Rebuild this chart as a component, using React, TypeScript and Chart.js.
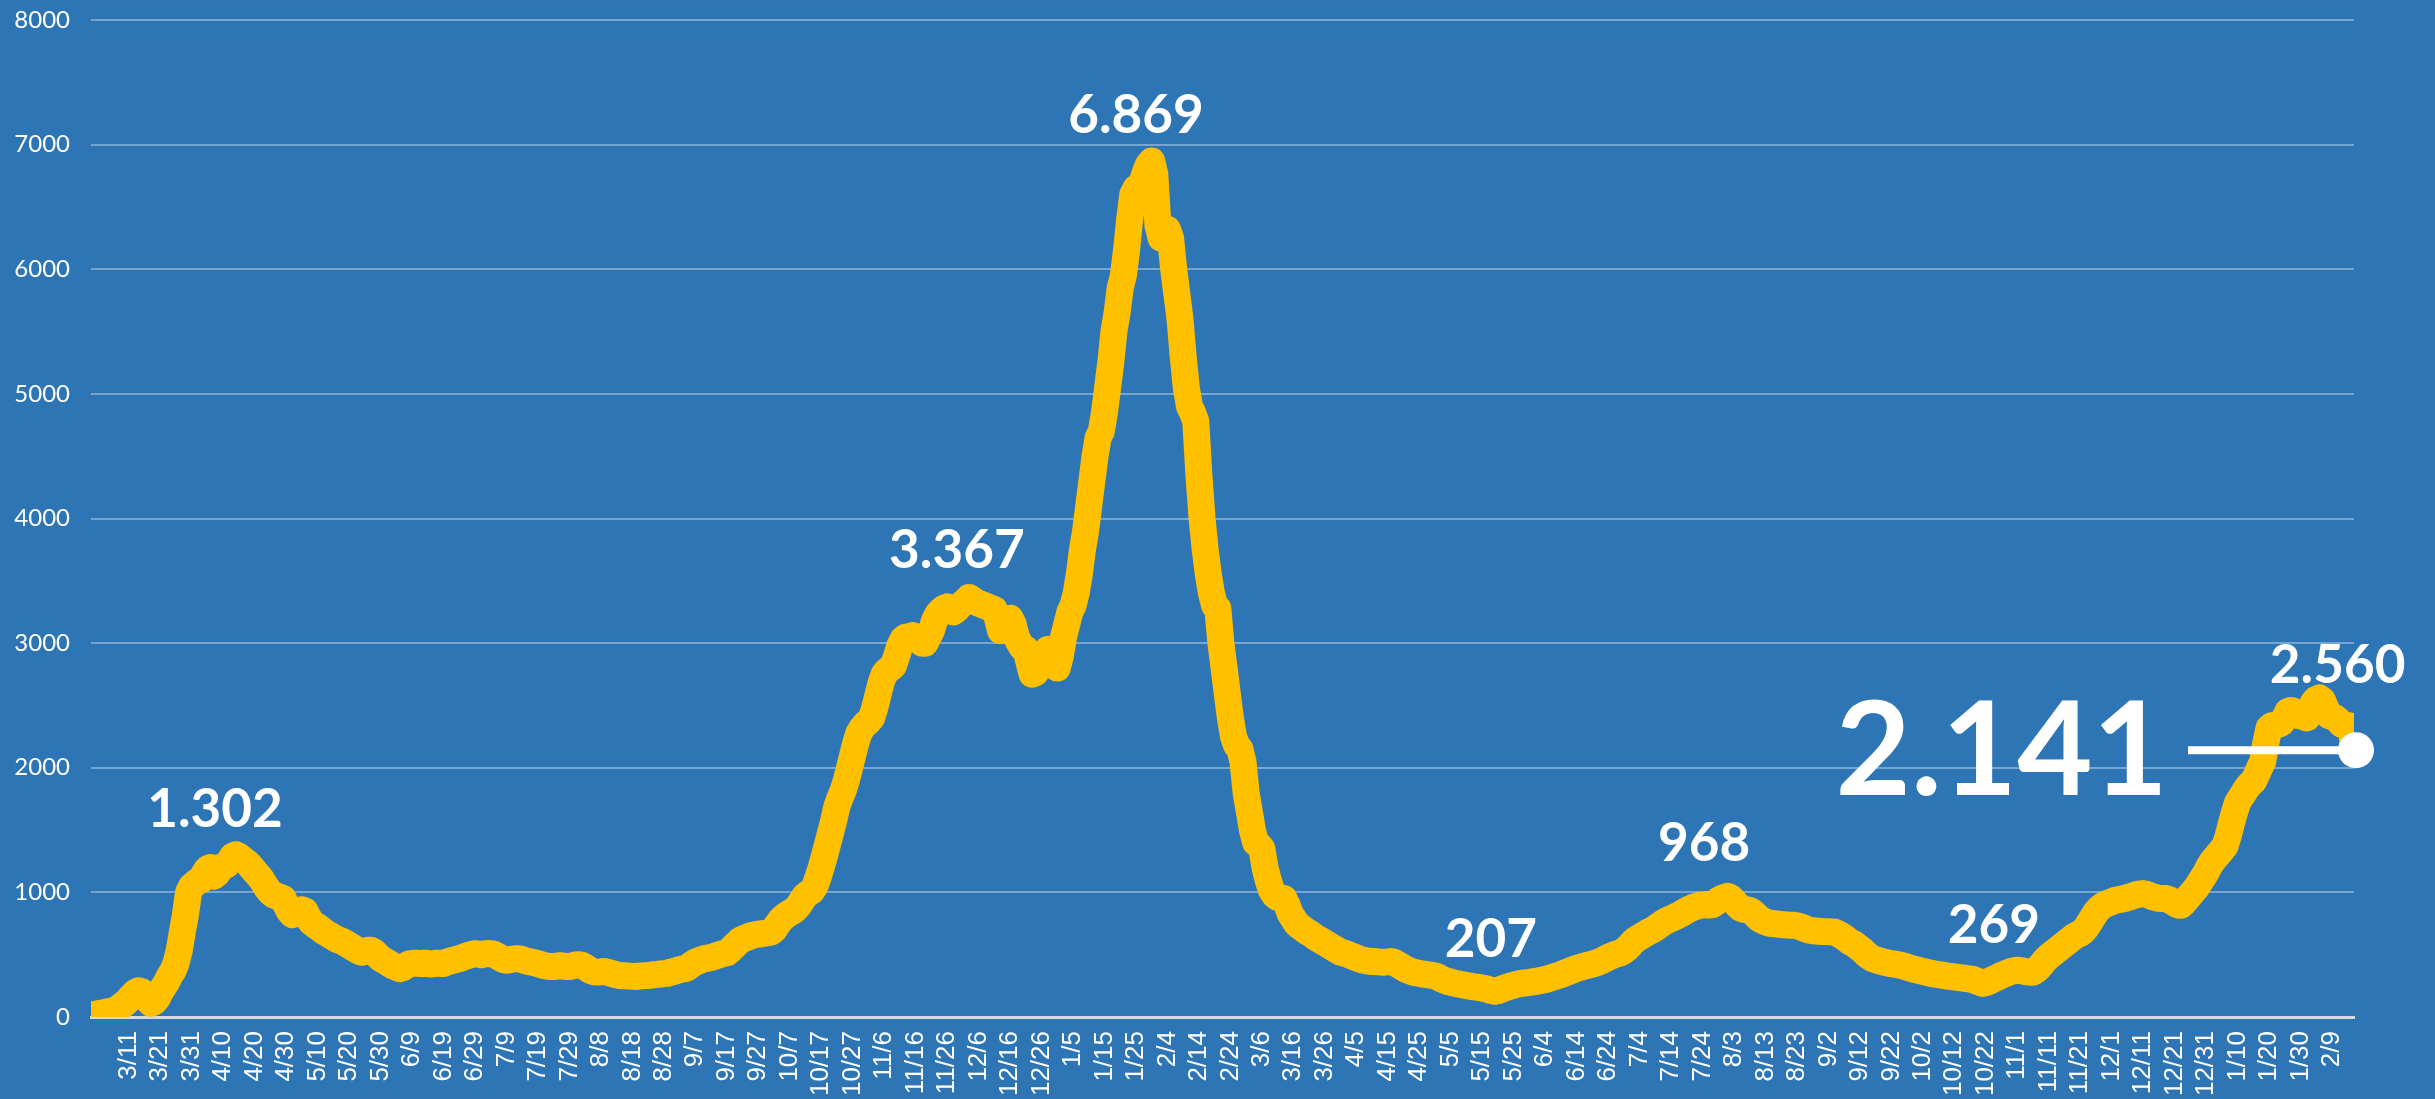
import React, { useEffect, useRef } from 'react';
import { Chart, registerables } from 'chart.js';

Chart.register(...registerables);

const W = 2435;
const H = 1099;

// First day of the series (28 Feb 2020), one value per day until 16 Feb 2022
const FIRST_DAY = { year: 2020, month: 2, day: 28 };

// Tick labels shown on the category axis (every 10th day)
const tickLabels = [
  '3/11', '3/21', '3/31', '4/10', '4/20', '4/30', '5/10', '5/20', '5/30', '6/9',
  '6/19', '6/29', '7/9', '7/19', '7/29', '8/8', '8/18', '8/28', '9/7', '9/17',
  '9/27', '10/7', '10/17', '10/27', '11/6', '11/16', '11/26', '12/6', '12/16', '12/26',
  '1/5', '1/15', '1/25', '2/4', '2/14', '2/24', '3/6', '3/16', '3/26', '4/5',
  '4/15', '4/25', '5/5', '5/15', '5/25', '6/4', '6/14', '6/24', '7/4', '7/14',
  '7/24', '8/3', '8/13', '8/23', '9/2', '9/12', '9/22', '10/2', '10/12', '10/22',
  '11/1', '11/11', '11/21', '12/1', '12/11', '12/21', '12/31', '1/10', '1/20', '1/30',
  '2/9',
];

// Daily values
const hospitalized = [
  15, 20, 25, 30, 35, 40, 45, 50, 60, 75, 95, 115,
  140, 170, 195, 210, 205, 180, 140, 110, 120, 150,
  200, 240, 280, 330, 370, 430, 530, 680, 820, 1000,
  1050, 1070, 1090, 1100, 1150, 1190, 1200, 1130, 1150, 1190,
  1210, 1220, 1250, 1290, 1302, 1290, 1270, 1250, 1230, 1200,
  1170, 1140, 1110, 1070, 1030, 1000, 980, 970, 960, 950,
  900, 850, 820, 830, 850, 860, 850, 800, 760, 740,
  725, 705, 685, 670, 655, 640, 625, 615, 605, 590,
  575, 560, 545, 530, 520, 525, 535, 535, 520, 495,
  470, 455, 441, 425, 410, 400, 388, 395, 410, 425,
  430, 432, 430, 428, 432, 430, 425, 428, 432, 430,
  430, 440, 448, 455, 462, 468, 478, 488, 495, 502,
  508, 505, 500, 505, 510, 508, 505, 490, 475, 462,
  455, 460, 465, 468, 468, 460, 452, 445, 441, 435,
  428, 420, 412, 408, 405, 405, 408, 412, 410, 405,
  405, 410, 418, 420, 415, 400, 385, 370, 362, 360,
  362, 365, 360, 352, 345, 338, 333, 330, 330, 328,
  326, 325, 328, 330, 332, 333, 336, 340, 342, 345,
  348, 350, 358, 365, 372, 380, 385, 390, 405, 425,
  440, 450, 460, 468, 472, 478, 485, 495, 503, 510,
  515, 535, 560, 585, 610, 625, 635, 645, 655, 660,
  665, 668, 672, 676, 680, 700, 740, 775, 800, 820,
  835, 850, 870, 900, 940, 975, 995, 1010, 1050, 1120,
  1200, 1290, 1385, 1480, 1580, 1690, 1760, 1820, 1900, 2000,
  2100, 2200, 2280, 2320, 2350, 2370, 2400, 2480, 2580, 2680,
  2750, 2780, 2800, 2820, 2900, 2980, 3030, 3050, 3050, 3060,
  3050, 3030, 3000, 3000, 3050, 3100, 3180, 3230, 3260, 3280,
  3290, 3270, 3250, 3270, 3300, 3320, 3340, 3367, 3350, 3330,
  3320, 3310, 3300, 3290, 3280, 3270, 3200, 3100, 3130, 3180,
  3200, 3150, 3050, 3000, 2960, 2950, 2850, 2750, 2760, 2800,
  2850, 2920, 2950, 2900, 2820, 2800, 2900, 3050, 3150, 3250,
  3300, 3400, 3550, 3750, 3900, 4100, 4300, 4500, 4650, 4700,
  4850, 5050, 5250, 5500, 5650, 5850, 5950, 6150, 6400, 6600,
  6650, 6660, 6700, 6780, 6840, 6869, 6760, 6350, 6250, 6300,
  6320, 6250, 6000, 5800, 5600, 5300, 5050, 4900, 4850, 4780,
  4350, 4000, 3750, 3550, 3400, 3300, 3280, 3000, 2800, 2600,
  2400, 2250, 2180, 2150, 2050, 1800, 1650, 1500, 1400, 1380,
  1350, 1200, 1100, 1020, 980, 960, 955, 950, 900, 830,
  790, 750, 728, 710, 690, 675, 660, 640, 625, 610,
  595, 580, 565, 550, 535, 520, 514, 505, 495, 485,
  475, 465, 458, 451, 448, 445, 445, 442, 440, 440,
  442, 445, 440, 425, 410, 395, 380, 370, 361, 355,
  350, 345, 342, 338, 335, 330, 320, 305, 295, 285,
  280, 272, 267, 262, 258, 252, 248, 243, 240, 237,
  232, 228, 220, 212, 207, 212, 222, 232, 240, 248,
  255, 262, 268, 272, 275, 278, 282, 286, 290, 295,
  300, 308, 316, 324, 332, 340, 350, 360, 370, 380,
  390, 398, 405, 412, 418, 424, 432, 440, 452, 465,
  478, 490, 500, 508, 514, 530, 550, 575, 605, 625,
  640, 655, 670, 685, 697, 712, 730, 748, 765, 778,
  789, 800, 812, 825, 840, 855, 868, 880, 888, 896,
  900, 902, 898, 900, 915, 935, 950, 960, 968, 955,
  930, 900, 875, 865, 860, 855, 840, 815, 790, 775,
  763, 755, 750, 748, 745, 742, 740, 738, 737, 736,
  732, 725, 715, 705, 696, 692, 690, 688, 686, 685,
  684, 683, 680, 670, 655, 640, 620, 600, 589, 570,
  550, 530, 505, 485, 468, 460, 452, 445, 438, 432,
  428, 424, 420, 415, 408, 400, 392, 385, 378, 372,
  366, 360, 354, 348, 344, 340, 336, 332, 328, 325,
  322, 318, 315, 312, 308, 305, 300, 290, 280, 269,
  275, 285, 298, 310, 322, 335, 345, 355, 365, 372,
  375, 372, 368, 362, 360, 360, 375, 400, 430, 460,
  485, 505, 525, 545, 565, 585, 605, 625, 645, 660,
  669, 690, 720, 760, 800, 840, 870, 890, 905, 915,
  925, 935, 940, 945, 950, 958, 965, 975, 982, 988,
  990, 985, 975, 965, 958, 952, 950, 950, 945, 930,
  915, 900, 896, 920, 950, 980, 1010, 1040, 1080, 1120,
  1160, 1210, 1250, 1280, 1310, 1340, 1370, 1450, 1550, 1640,
  1720, 1760, 1800, 1840, 1870, 1890, 1940, 2000, 2050, 2200,
  2320, 2340, 2340, 2350, 2360, 2400, 2450, 2460, 2450, 2420,
  2430, 2410, 2400, 2460, 2520, 2550, 2560, 2540, 2480, 2420,
  2410, 2400, 2380, 2350, 2340, 2340, 2330, 2141,
];

// Value callouts: text, anchor day index and anchor level (data units)
const calloutTexts = ['1.302', '3.367', '6.869', '207', '968', '269', '2.560'];
const calloutDays = [39.4, 275.1, 332.0, 444.8, 512.5, 604.6, 713.8];
const calloutLevels = [1677, 3755, 7246, 630, 1400, 750, 2833];

const yTicks = [0, 1000, 2000, 3000, 4000, 5000, 6000, 7000, 8000];

// Build daily category labels "M/D"
const categories: string[] = hospitalized.map((_, i) => {
  const d = new Date(FIRST_DAY.year, FIRST_DAY.month - 1, FIRST_DAY.day + i);
  return `${d.getMonth() + 1}/${d.getDate()}`;
});

// Map each tick label to its category index, in order
const tickIndex = new Map<number, string>();
{
  let p = 0;
  for (let i = 0; i < categories.length && p < tickLabels.length; i++) {
    if (categories[i] === tickLabels[p]) {
      tickIndex.set(i, tickLabels[p]);
      p++;
    }
  }
}

const formatPt = (n: number) => n.toLocaleString('de-DE');

const bgPlugin = {
  id: 'bgFill',
  beforeDraw(chart: any) {
    const { ctx, width, height } = chart;
    ctx.save();
    ctx.fillStyle = '#2E75B6';
    ctx.fillRect(0, 0, width, height);
    ctx.restore();
  },
};

const calloutPlugin = {
  id: 'callouts',
  afterDatasetsDraw(chart: any) {
    const { ctx } = chart;
    const xs = chart.scales.x;
    const ys = chart.scales.y;
    ctx.save();
    ctx.fillStyle = '#FFFFFF';
    ctx.strokeStyle = '#FFFFFF';
    ctx.textAlign = 'center';
    ctx.textBaseline = 'alphabetic';
    const fs = 53;
    ctx.font = `bold ${fs}px Lato`;
    calloutTexts.forEach((t, i) => {
      const px = xs.getPixelForValue(calloutDays[i]);
      const py = ys.getPixelForValue(calloutLevels[i]);
      ctx.fillText(t, px, py + fs * 0.358);
    });

    const last = hospitalized.length - 1;
    const lx = xs.getPixelForValue(last);
    const ly = ys.getPixelForValue(hospitalized[last]);
    ctx.lineWidth = 8;
    ctx.beginPath();
    ctx.moveTo(lx - 166, ly);
    ctx.lineTo(lx, ly);
    ctx.stroke();
    ctx.beginPath();
    ctx.arc(lx + 2, ly, 18, 0, Math.PI * 2);
    ctx.fill();

    const big = 130;
    ctx.font = `bold ${big}px Lato`;
    ctx.textAlign = 'right';
    ctx.fillText(formatPt(hospitalized[last]), lx - 186, ly + 45);
    ctx.restore();
  },
};

export default function App() {
  const ref = useRef<HTMLCanvasElement>(null);

  useEffect(() => {
    let chart: Chart | null = null;
    let cancelled = false;
    const ready = Promise.all([
      document.fonts.load('bold 53px Lato'),
      document.fonts.load('24px Lato'),
      document.fonts.load('26px "Liberation Sans"'),
    ]).catch(() => null);

    ready.then(() => {
      if (cancelled || !ref.current) return;
      chart = new Chart(ref.current, {
        type: 'line',
        data: {
          labels: categories,
          datasets: [
            {
              data: hospitalized,
              borderColor: '#FFC000',
              backgroundColor: '#FFC000',
              borderWidth: 27,
              pointRadius: 0,
              pointHoverRadius: 0,
              borderJoinStyle: 'round',
              borderCapStyle: 'round',
              tension: 0,
              fill: false,
              clip: 0,
            } as any,
          ],
        },
        options: {
          responsive: false,
          animation: false,
          devicePixelRatio: 1,
          events: [],
          layout: { padding: { left: 0, right: 81, top: 20, bottom: 0 } },
          plugins: {
            legend: { display: false },
            tooltip: { enabled: false },
          },
          scales: {
            x: {
              type: 'category',
              offset: false,
              grid: { display: false, drawTicks: false },
              border: { display: true, color: '#D9D9D9', width: 3 },
              ticks: {
                autoSkip: false,
                minRotation: 90,
                maxRotation: 90,
                padding: 14,
                color: '#FFFFFF',
                font: { family: '"Liberation Sans", Arial, sans-serif', size: 26 },
                callback: (_v: any, i: number) => tickIndex.get(i) ?? '',
              },
              afterFit: (s: any) => {
                s.height = 82;
                s.paddingLeft = 0;
                s.paddingRight = 0;
              },
            },
            y: {
              min: yTicks[0],
              max: yTicks[yTicks.length - 1],
              border: { display: false },
              grid: {
                drawTicks: false,
                lineWidth: 2,
                color: (c: any) =>
                  c.tick && c.tick.value === 0 ? 'rgba(0,0,0,0)' : 'rgba(255,255,255,0.35)',
              },
              ticks: {
                stepSize: yTicks[1] - yTicks[0],
                padding: 21,
                color: '#FFFFFF',
                font: { family: 'Lato', size: 24 },
                callback: (v: any) => String(v),
              },
              afterFit: (s: any) => {
                s.width = 91;
                s.paddingTop = 0;
                s.paddingBottom = 0;
              },
            },
          },
        },
        plugins: [bgPlugin, calloutPlugin],
      });
    });

    return () => {
      cancelled = true;
      if (chart) chart.destroy();
    };
  }, []);

  return (
    <div style={{ position: 'fixed', left: 0, top: 0, width: W, height: H, background: '#2E75B6' }}>
      <canvas ref={ref} width={W} height={H} style={{ display: 'block', width: W, height: H }} />
    </div>
  );
}
